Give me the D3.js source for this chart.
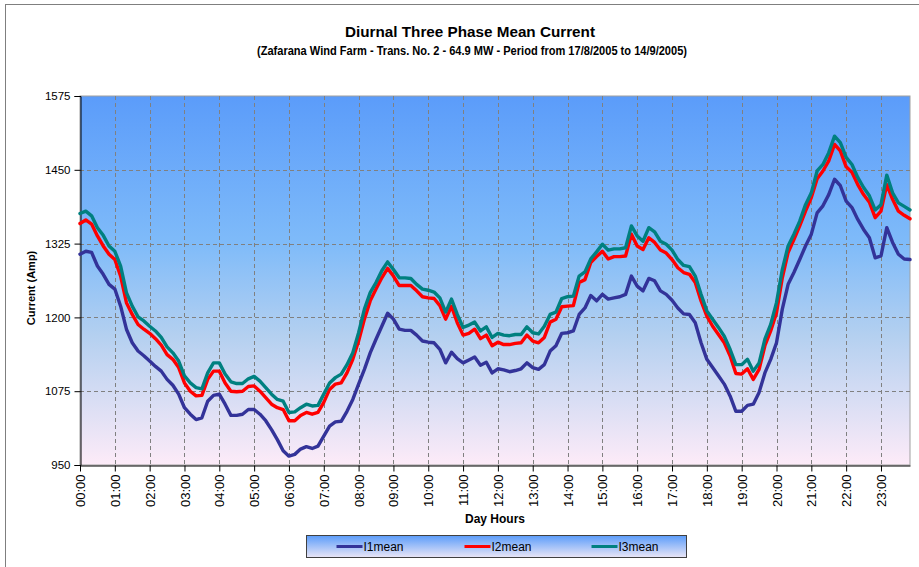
<!DOCTYPE html>
<html lang="en">
<head>
<meta charset="utf-8">
<title>Diurnal Three Phase Mean Current</title>
<style>
  body { margin: 0; background: #fff; }
  svg { display: block; font-family: "Liberation Sans", Arial, sans-serif; }
</style>
</head>
<body>
<script src="https://cdn.jsdelivr.net/npm/d3@7"></script>
<script>
// hour labels shown on the category axis (one every 6 samples)
var hourLabels = ["00:00","01:00","02:00","03:00","04:00","05:00","06:00","07:00",
                  "08:00","09:00","10:00","11:00","12:00","13:00","14:00","15:00",
                  "16:00","17:00","18:00","19:00","20:00","21:00","22:00","23:00"];
var yTicks = [950, 1075, 1200, 1325, 1450, 1575];
var seriesNames = ["I1mean", "I2mean", "I3mean"];

// 10-minute means, 00:00 .. 23:50
var i1mean = [
  1307,1312,1310,1287,1273,1256,1248,1219,1180,1157,1143,1135,
  1126,1117,1109,1095,1085,1070,1047,1036,1027,1030,1058,1068,
  1070,1053,1034,1034,1036,1044,1044,1036,1025,1010,993,974,
  965,968,977,981,978,982,999,1016,1023,1024,1041,1061,
  1087,1112,1140,1163,1185,1207,1197,1180,1178,1178,1170,1160,
  1158,1157,1146,1123,1141,1130,1123,1128,1133,1119,1124,1106,
  1113,1111,1108,1110,1113,1123,1115,1112,1120,1143,1152,1173,
  1174,1177,1205,1216,1237,1228,1239,1231,1233,1235,1239,1270,
  1253,1245,1266,1262,1245,1239,1229,1216,1206,1205,1191,1157,
  1129,1115,1101,1087,1067,1041,1041,1051,1053,1073,1106,1129,
  1157,1214,1256,1276,1298,1321,1341,1377,1389,1408,1434,1423,
  1397,1386,1366,1349,1335,1301,1304,1352,1327,1307,1299,1298
];
var i2mean = [
  1359,1365,1358,1338,1321,1307,1298,1270,1225,1205,1188,1180,
  1173,1164,1153,1137,1129,1115,1089,1075,1067,1068,1095,1109,
  1109,1089,1075,1074,1075,1083,1084,1075,1064,1053,1047,1044,
  1025,1025,1034,1039,1036,1039,1056,1078,1087,1089,1106,1129,
  1160,1197,1228,1248,1267,1283,1270,1254,1254,1254,1245,1235,
  1233,1232,1220,1197,1219,1191,1170,1173,1180,1164,1170,1152,
  1158,1154,1154,1156,1157,1170,1160,1157,1166,1192,1197,1218,
  1219,1220,1259,1264,1293,1303,1312,1299,1303,1303,1304,1341,
  1321,1315,1335,1327,1314,1309,1298,1284,1276,1273,1259,1228,
  1202,1185,1171,1157,1135,1105,1104,1113,1095,1112,1152,1177,
  1208,1267,1310,1332,1355,1380,1403,1435,1448,1465,1493,1482,
  1455,1446,1425,1408,1395,1369,1380,1425,1400,1380,1373,1367
];
var i3mean = [
  1376,1380,1372,1352,1339,1321,1312,1287,1242,1219,1201,1194,
  1185,1177,1166,1150,1140,1126,1101,1089,1081,1079,1106,1123,
  1123,1104,1091,1088,1088,1096,1100,1092,1081,1070,1061,1058,
  1039,1040,1047,1053,1050,1051,1070,1089,1098,1104,1120,1140,
  1174,1214,1242,1259,1279,1294,1281,1267,1267,1266,1256,1248,
  1246,1243,1233,1209,1231,1205,1183,1187,1192,1177,1184,1166,
  1173,1170,1169,1171,1171,1184,1174,1172,1185,1205,1209,1232,
  1235,1236,1270,1277,1299,1311,1324,1314,1316,1316,1318,1355,
  1338,1329,1352,1345,1329,1324,1314,1298,1288,1286,1270,1239,
  1211,1197,1183,1168,1146,1120,1120,1129,1109,1123,1163,1188,
  1225,1281,1321,1341,1363,1391,1411,1448,1459,1479,1507,1496,
  1471,1459,1437,1420,1406,1382,1391,1441,1411,1394,1388,1382
];
var seriesColors = ["#333399", "#ff0000", "#008080"];

var width = 919, height = 567;
var margin = {top: 96, right: 9, bottom: 102, left: 80};

var svg = d3.select("body").append("svg")
    .attr("width", width)
    .attr("height", height)
    .attr("viewBox", [0, 0, width, height]);

var defs = svg.append("defs");
var plotGrad = defs.append("linearGradient")
    .attr("id", "plotGrad").attr("x1", 0).attr("y1", 0).attr("x2", 0).attr("y2", 1);
plotGrad.append("stop").attr("offset", "0%").attr("stop-color", "#5b9cfa");
plotGrad.append("stop").attr("offset", "40%").attr("stop-color", "#7fbbf9");
plotGrad.append("stop").attr("offset", "65%").attr("stop-color", "#b4d0f0");
plotGrad.append("stop").attr("offset", "100%").attr("stop-color", "#fdebf8");

var legendGrad = defs.append("linearGradient")
    .attr("id", "legendGrad").attr("x1", 0).attr("y1", 0).attr("x2", 0).attr("y2", 1);
legendGrad.append("stop").attr("offset", "0%").attr("stop-color", "#5b9cfa");
legendGrad.append("stop").attr("offset", "100%").attr("stop-color", "#eae6f6");

// outer chart frame (only its left and top edges are in view)
svg.append("rect")
    .attr("x", 5.5).attr("y", 4.5)
    .attr("width", 940).attr("height", 600)
    .attr("fill", "#fff")
    .attr("stroke", "#7f7f7f");

var x = d3.scaleLinear()
    .domain([0, i1mean.length - 1])
    .range([margin.left, width - margin.right]);
var y = d3.scaleLinear()
    .domain([950, 1575])
    .range([height - margin.bottom, margin.top]);

// plot area
svg.append("rect")
    .attr("x", margin.left).attr("y", margin.top)
    .attr("width", x.range()[1] - margin.left)
    .attr("height", y(950) - margin.top)
    .attr("fill", "url(#plotGrad)")
    .attr("stroke", "#a0a0a0");

// grid
svg.append("g")
    .selectAll("line")
    .data(yTicks.filter(function(d) { return d > 950 && d < 1575; }))
    .join("line")
    .attr("x1", margin.left).attr("x2", x.range()[1])
    .attr("y1", function(d) { return Math.round(y(d)) + 0.5; })
    .attr("y2", function(d) { return Math.round(y(d)) + 0.5; })
    .attr("stroke", "#808080")
    .attr("stroke-dasharray", "4,3");

svg.append("g")
    .selectAll("line")
    .data(d3.range(1, hourLabels.length))
    .join("line")
    .attr("x1", function(d) { return Math.round(x(d * 6)) + 0.5; })
    .attr("x2", function(d) { return Math.round(x(d * 6)) + 0.5; })
    .attr("y1", margin.top).attr("y2", y(950))
    .attr("stroke", "#808080")
    .attr("stroke-dasharray", "4,3");

// y axis
var yAxis = d3.axisLeft(y).tickValues(yTicks).tickSize(6).tickPadding(4).tickFormat(d3.format("d"));
svg.append("g")
    .attr("transform", "translate(" + (margin.left + 0.5) + ",0)")
    .call(yAxis)
    .call(function(g) { g.select(".domain").attr("stroke", "#000"); })
    .call(function(g) {
      g.selectAll(".tick text").attr("font-size", 11.5).attr("fill", "#000")
        .attr("font-family", "Liberation Sans, Arial, sans-serif");
    });

// x axis
var xAxis = d3.axisBottom(x)
    .tickValues(d3.range(0, hourLabels.length).map(function(d) { return d * 6; }))
    .tickFormat(function(d) { return hourLabels[d / 6]; })
    .tickSize(6).tickSizeOuter(0);
svg.append("g")
    .attr("transform", "translate(0," + (y(950) + 0.5) + ")")
    .call(xAxis)
    .call(function(g) { g.select(".domain").attr("stroke", "#000"); })
    .call(function(g) {
      g.selectAll(".tick text")
        .attr("font-size", 13)
        .attr("font-family", "Liberation Sans, Arial, sans-serif")
        .attr("fill", "#000")
        .attr("text-anchor", "end")
        .attr("dy", "0.35em")
        .attr("transform", "translate(0,1) rotate(-90)")
        .attr("x", -8).attr("y", 0);
    });

// series
var line = d3.line()
    .x(function(d, i) { return x(i); })
    .y(function(d) { return y(d); });

[i1mean, i2mean, i3mean].forEach(function(s, k) {
  svg.append("path")
    .datum(s)
    .attr("fill", "none")
    .attr("stroke", seriesColors[k])
    .attr("stroke-width", 3.4)
    .attr("stroke-linejoin", "round")
    .attr("stroke-linecap", "round")
    .attr("d", line);
});

// titles
svg.append("text")
    .attr("x", 470).attr("y", 37)
    .attr("text-anchor", "middle")
    .attr("font-size", 15).attr("font-weight", "bold")
    .attr("textLength", 250).attr("lengthAdjust", "spacingAndGlyphs")
    .text("Diurnal Three Phase Mean Current");
svg.append("text")
    .attr("x", 472).attr("y", 55)
    .attr("text-anchor", "middle")
    .attr("font-size", 13.5).attr("font-weight", "bold")
    .attr("textLength", 430).attr("lengthAdjust", "spacingAndGlyphs")
    .text("(Zafarana Wind Farm - Trans. No. 2 - 64.9 MW - Period from 17/8/2005 to 14/9/2005)");

svg.append("text")
    .attr("transform", "translate(35,288) rotate(-90)")
    .attr("text-anchor", "middle")
    .attr("font-size", 11).attr("font-weight", "bold")
    .text("Current (Amp)");

svg.append("text")
    .attr("x", 495).attr("y", 523)
    .attr("text-anchor", "middle")
    .attr("font-size", 12).attr("font-weight", "bold")
    .text("Day Hours");

// legend
var legend = svg.append("g").attr("transform", "translate(306.5,535.5)");
legend.append("rect")
    .attr("width", 380).attr("height", 22)
    .attr("fill", "url(#legendGrad)")
    .attr("stroke", "#404040");
var legendX = [30, 158, 285];
seriesNames.forEach(function(name, k) {
  var item = legend.append("g").attr("transform", "translate(" + legendX[k] + ",11)");
  item.append("line")
    .attr("x1", 0).attr("x2", 26)
    .attr("stroke", seriesColors[k]).attr("stroke-width", 3);
  item.append("text")
    .attr("x", 27).attr("y", 4.5)
    .attr("font-size", 12)
    .text(name);
});
</script>
</body>
</html>
